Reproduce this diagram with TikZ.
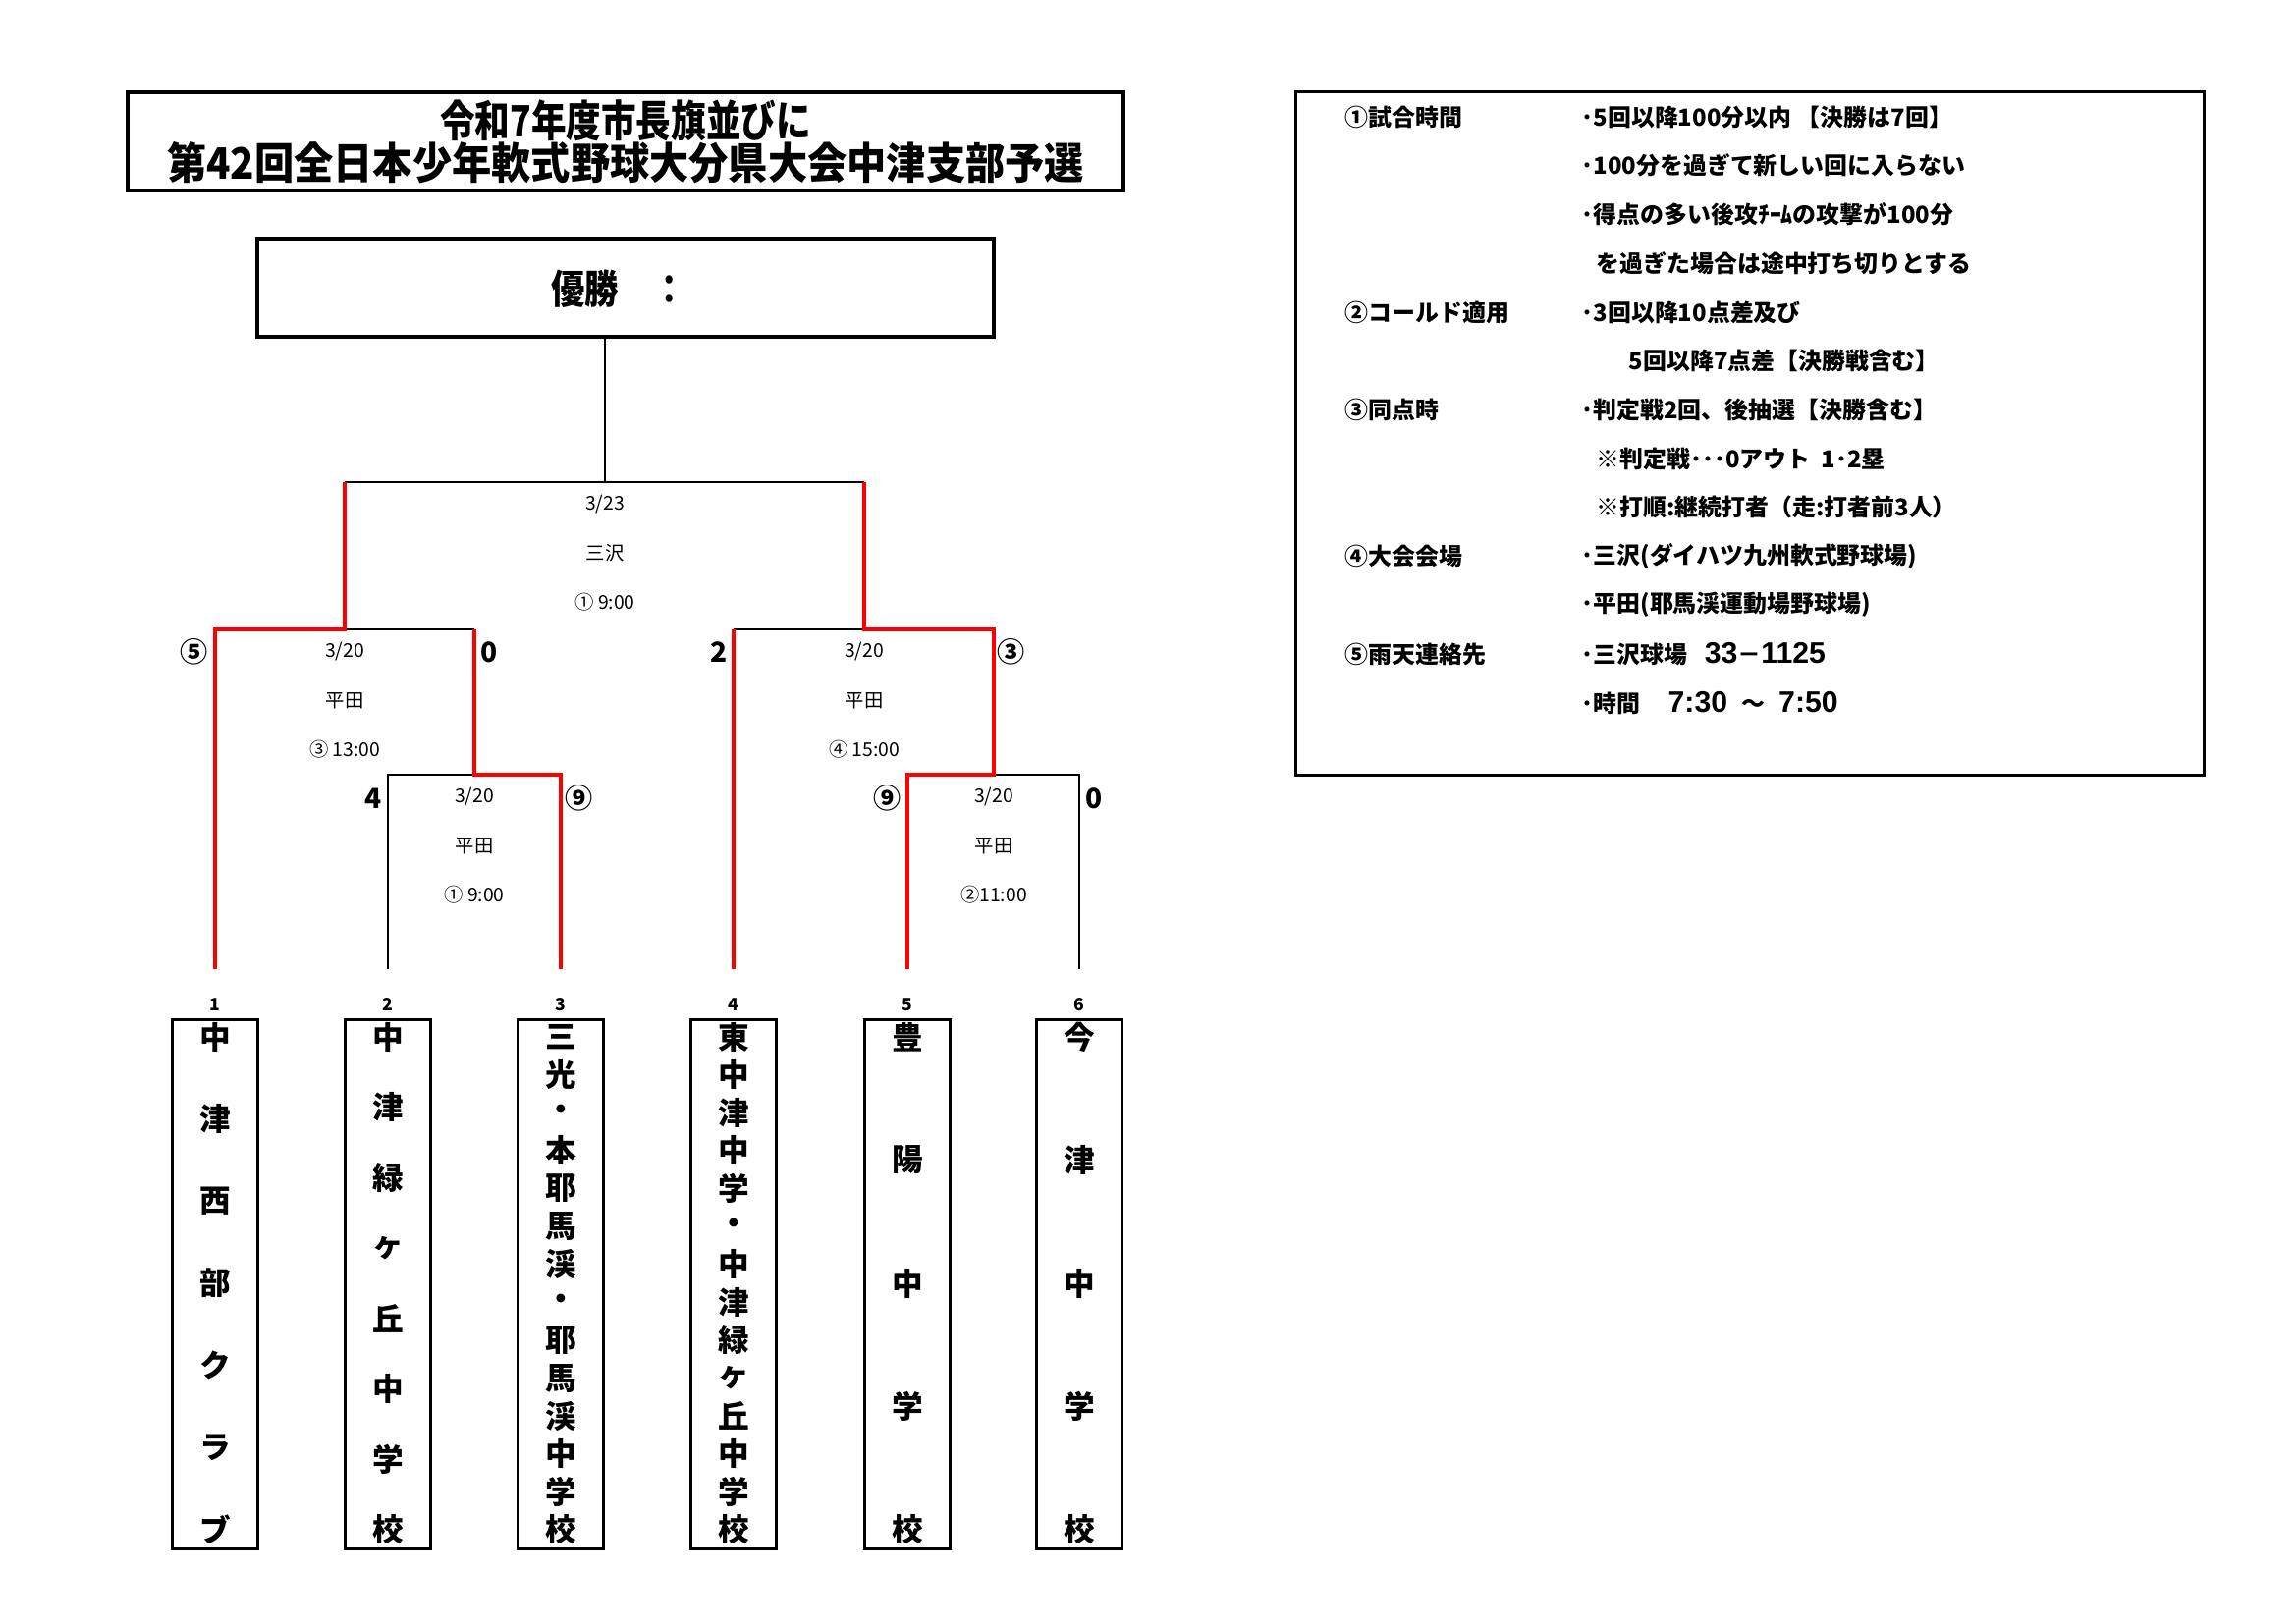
\documentclass[tikz,border=0pt]{standalone}
\usepackage{fontspec}
\usepackage{graphicx}
\setmainfont{Noto Sans CJK JP}
\newfontfamily\numfont{Liberation Sans}
\newcommand\nf[1]{{\numfont\fontsize{8.6}{8}\selectfont #1}}
\usetikzlibrary{positioning}
\tikzset{>=latex}

\begin{document}
\begin{tikzpicture}[x=0.01cm,y=-0.01cm,
   brk/.style={black,line width=0.55pt},
   win/.style={red,line width=1.35pt,line join=miter},
   bigbox/.style={draw,line width=1.1pt,inner sep=0pt},
   teambox/.style={draw,line width=0.7pt,minimum width=0.87cm,minimum height=5.39cm,inner sep=0pt},
   info/.style={anchor=west,font=\fontsize{6.8}{8}\selectfont\bfseries,inner sep=0pt},
   game/.style={font=\fontsize{5.5}{6}\selectfont,inner sep=0pt},
   score/.style={font=\fontsize{8}{9}\selectfont\bfseries,inner sep=0pt},
   num/.style={font=\fontsize{5}{6}\selectfont\bfseries,inner sep=0pt},
   moji/.style={font=\fontsize{9}{9}\selectfont\bfseries,inner sep=0pt},
]
\useasboundingbox (0,0) rectangle (2338,1654);

% title and winner
\node[bigbox,minimum width=10.13cm,minimum height=1cm] (title) at (637,144) {};
\node[align=center,font=\fontsize{12.5}{12.2}\selectfont\bfseries] (titletext) at (title)
   {\scalebox{0.81}[1]{令和7年度市長旗並びに}\\\scalebox{0.915}[1]{第42回全日本少年軟式野球大分県大会中津支部予選}};
\node[bigbox,minimum width=7.5cm,minimum height=1cm] (champ) at (637,293) {};
\node[font=\fontsize{11.5}{12}\selectfont\bfseries] (champtext) at (630,294) {\scalebox{0.85}[1]{優勝　：}};

% teams
\foreach \i/\x in {1/219,2/395,3/571,4/747,5/924,6/1099}{
  \node[num] (n\i) at (\x,1023) {\i};
  \node[teambox] (team\i) at (\x,1308) {};
  \coordinate (e\i) at (\x,987);
}
\foreach \i/\x/\n/\name in {1/219/7/{中,津,西,部,ク,ラ,ブ},2/395/8/{中,津,緑,ヶ,丘,中,学,校},
   3/571/14/{三,光,・,本,耶,馬,渓,・,耶,馬,渓,中,学,校},4/747/14/{東,中,津,中,学,・,中,津,緑,ヶ,丘,中,学,校},
   5/924/5/{豊,陽,中,学,校},6/1099/5/{今,津,中,学,校}}
  \foreach \c [count=\k] in \name
    \node[moji] (m\i-\k) at (\x,{1056+(\k-1)*502/(\n-1)}) {\c};

% bracket
\coordinate (f) at (616,491);
\coordinate (fl) at (351,491); \coordinate (fr) at (880,491);
\coordinate (sl) at (351,641); \coordinate (sr) at (880,641);
\coordinate (ql) at (483,789); \coordinate (qr) at (1012,789);
\draw[brk] (fl) -- (fr);
\draw[brk] (f) -- (f |- champ.south);
\draw[brk] (sl) -- (ql |- sl);
\draw[brk] (e2) |- (ql);
\draw[brk] (e4 |- sr) -- (sr);
\draw[brk] (e6) |- (qr);
\draw[win] (e1) |- (sl) -- (fl);
\draw[win] (e3) |- (ql) -- (ql |- sl);
\draw[win] (e4) -- (e4 |- sr);
\draw[win] (e5) |- (qr) -- (qr |- sr) -- (sr) -- (fr);

% games
\foreach \g/\x/\y/\day/\place/\time in {fin/616/491/23/三沢/{① 9:00},semL/351/641/20/平田/{③ 13:00},
   semR/880/641/20/平田/{④ 15:00},qL/483/789/20/平田/{① 9:00},qR/1012/789/20/平田/{②11:00}}{
  \node[game] (\g-date) at (\x,\y+23) {3/\day};
  \node[game,on grid,below=0.495cm of \g-date] (\g-place) {\place};
  \node[game,on grid,below=0.5cm of \g-place] (\g-time) {\time};
}

% scores
\node[score] (s1) at (198,664) {⑤};
\node[score] (s2) at (498,664) {0};
\node[score] (s3) at (380,813) {4};
\node[score] (s4) at (590,813) {⑨};
\node[score] (s5) at (732,664) {2};
\node[score] (s6) at (1030,664) {③};
\node[score] (s7) at (904,813) {⑨};
\node[score] (s8) at (1114,813) {0};

% rules
\node[draw,line width=0.8pt,minimum width=9.24cm,minimum height=6.95cm,inner sep=0pt] (rules) at (1782,441.5) {};
\foreach \y/\t in {119/①試合時間,318/②コールド適用,417/③同点時,566/④大会会場,666/⑤雨天連絡先}
  \node[info] (h\y) at (1369,\y) {\t};
\foreach \x/\y/\t in {1610/119/{･5回以降100分以内 【決勝は7回】},1610/168/{･100分を過ぎて新しい回に入らない},
   1610/218/{･得点の多い後攻ﾁｰﾑの攻撃が100分},1625/268/{を過ぎた場合は途中打ち切りとする},
   1610/318/{･3回以降10点差及び},1658/367/{5回以降7点差【決勝戦含む】},
   1610/417/{･判定戦2回、後抽選【決勝含む】},1625/467/{※判定戦･･･0アウト\ \ 1･2塁},
   1625/516/{※打順:継続打者（走:打者前3人）},1610/566/{･三沢(ダイハツ九州軟式野球場)},
   1610/616/{･平田(耶馬渓運動場野球場)},1610/666/{･三沢球場\hspace{5pt}\nf{33}－\nf{1125}},
   1610/716/{･時間\hspace{8pt}\nf{7:30}\hspace{4pt}～\hspace{4pt}\nf{7:50}}}
  \node[info] (r\y) at (\x,\y) {\t};
\end{tikzpicture}
\end{document}
